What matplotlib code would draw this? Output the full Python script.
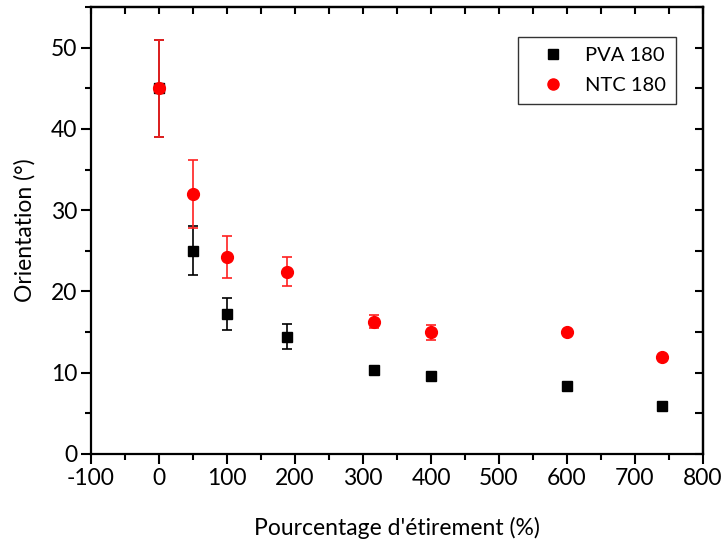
import matplotlib
matplotlib.use("Agg")
import matplotlib.pyplot as plt
from matplotlib.ticker import MultipleLocator
from matplotlib.lines import Line2D

plt.rcParams['font.family'] = ['Lato', 'DejaVu Sans']
plt.rcParams['axes.unicode_minus'] = False

x_stretch = [0, 50, 100, 188, 316, 400, 600, 740]
pva_orient = [45.0, 25.0, 17.2, 14.45, 10.35, 9.6, 8.4, 5.95]
pva_err = [6.0, 3.0, 2.0, 1.5, 0.0, 0.0, 0.0, 0.0]
ntc_orient = [45.0, 32.0, 24.2, 22.45, 16.3, 14.95, 15.05, 11.95]
ntc_err = [6.0, 4.2, 2.6, 1.75, 0.75, 0.95, 0.0, 0.0]
labels = ["PVA 180", "NTC 180"]

FS = 16.5

fig = plt.figure(figsize=(7.24, 5.43), dpi=100)
ax = fig.add_axes([91/724, 1-454/543, (703-91)/724, (454-7)/543])

ax.errorbar(x_stretch, pva_orient, yerr=pva_err, fmt='s', color='black', ms=7.5,
            ecolor='black', elinewidth=1.2, capsize=3.6, capthick=1.2, zorder=3)
ax.errorbar(x_stretch, ntc_orient, yerr=ntc_err, fmt='o', color='#ff0000', ms=8.5,
            ecolor='#ff2020', elinewidth=1.2, capsize=3.6, capthick=1.2, zorder=4)

ax.set_xlim(-100, 800)
ax.set_ylim(0, 55)
ax.xaxis.set_major_locator(MultipleLocator(100))
ax.xaxis.set_minor_locator(MultipleLocator(50))
ax.yaxis.set_major_locator(MultipleLocator(10))
ax.yaxis.set_minor_locator(MultipleLocator(5))

for s in ax.spines.values():
    s.set_linewidth(1.6)

ax.tick_params(axis='both', which='major', direction='out', length=7, width=1.5,
               labelsize=FS, colors='black', pad=3)
ax.tick_params(axis='both', which='minor', direction='out', length=4, width=1.5)

secx = ax.secondary_xaxis('top')
secx.xaxis.set_major_locator(MultipleLocator(100))
secx.xaxis.set_minor_locator(MultipleLocator(50))
secx.tick_params(which='both', direction='in', length=5, width=1.5, labeltop=False)
secx.spines['top'].set_linewidth(1.6)
secy = ax.secondary_yaxis('right')
secy.yaxis.set_major_locator(MultipleLocator(10))
secy.yaxis.set_minor_locator(MultipleLocator(5))
secy.tick_params(which='both', direction='in', length=6, width=1.5, labelright=False)
secy.spines['right'].set_linewidth(1.6)

ax.set_xlabel("Pourcentage d'étirement (%)", fontsize=FS, labelpad=20)
ax.set_ylabel("Orientation (°)", fontsize=FS, labelpad=11)

handles = [Line2D([], [], ls='none', marker='s', color='black', ms=7),
           Line2D([], [], ls='none', marker='o', color='#ff0000', ms=8)]
leg = ax.legend(handles, labels, loc='upper right',
                bbox_to_anchor=((676-91)/612, (454-37)/447),
                frameon=True, fancybox=False, edgecolor='black', fontsize=14.5,
                handletextpad=0.4, borderpad=0.5, labelspacing=0.65, handlelength=2.4,
                borderaxespad=0)
leg.get_frame().set_linewidth(1.0)

fig.savefig("out.png", dpi=100)
